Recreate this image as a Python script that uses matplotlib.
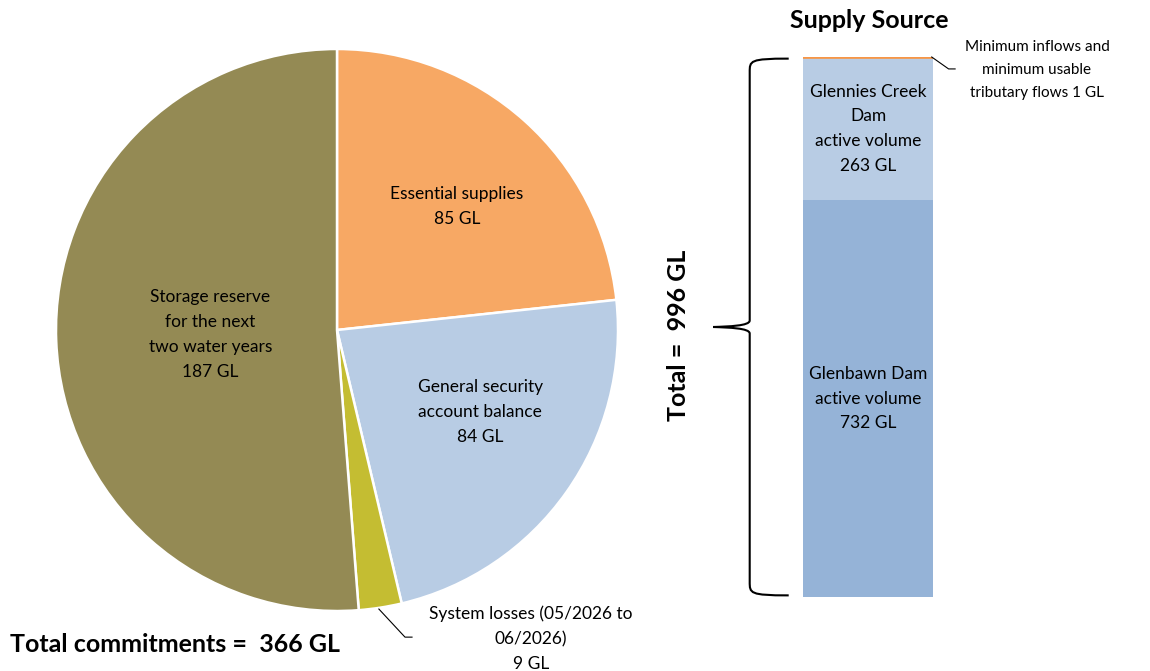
import matplotlib
matplotlib.use('Agg')
import matplotlib.pyplot as plt
from matplotlib.path import Path
from matplotlib.patches import PathPatch

plt.rcParams['font.family'] = ['Lato', 'DejaVu Sans']

# commitments (pie)
pie_labels = ['Essential supplies\n85 GL',
              'General security\naccount balance\n84 GL',
              'System losses (05/2026 to\n06/2026)\n9 GL',
              'Storage reserve\nfor the next\ntwo water years\n187 GL']
pie_values = [85, 84, 9, 187]
pie_colors = ['#F7A864', '#B8CCE4', '#C4BD32', '#948A54']
total_commit = 366

# supply source (stacked bar)
bar_labels = ['Glenbawn Dam\nactive volume\n732 GL',
              'Glennies Creek\nDam\nactive volume\n263 GL',
              'Minimum inflows and\nminimum usable\ntributary flows 1 GL']
bar_values = [732, 263, 1]
bar_colors = ['#95B3D7', '#B8CCE4', '#F79646']
total_supply = 996

W, H = 1150, 671
fig = plt.figure(figsize=(W / 100, H / 100), dpi=100)

# pie axes: centre (337, 330) px, radius 281 px
cx, cy, r = 337, 330, 281
ax = fig.add_axes([(cx - r) / W, (H - cy - r) / H, 2 * r / W, 2 * r / H])
wedges, _ = ax.pie(pie_values, colors=pie_colors, startangle=90, counterclock=False,
                   radius=1, wedgeprops=dict(edgecolor='white', linewidth=1.8))
ax.set_xlim(-1, 1)
ax.set_ylim(-1, 1)
ax.set_aspect('equal')
ax.axis('off')

fs = 12.5
ls = 1.68
ax.text(0.427, 0.44, pie_labels[0], ha='center', va='center', fontsize=fs, linespacing=ls)
ax.text(0.51, -0.292, pie_labels[1], ha='center', va='center', fontsize=fs, linespacing=ls)
ax.text(-0.45, -0.016, pie_labels[3], ha='center', va='center', fontsize=fs, linespacing=ls)
ax.text(0.69, -1.10, pie_labels[2], ha='center', va='center', fontsize=fs,
        linespacing=ls, clip_on=False)
ax.plot([0.149, 0.242, 0.267], [-0.993, -1.093, -1.093], color='black', lw=0.8,
        clip_on=False)

fig.text(10 / W, 1 - 645 / H, f'Total commitments =  {total_commit} GL', fontsize=18,
         fontweight='bold', ha='left', va='center')

# bar axes: x 803..933, y 57..597 px
bx0, bx1, by0, by1 = 803, 933, 57, 597
bx = fig.add_axes([bx0 / W, (H - by1) / H, (bx1 - bx0) / W, (by1 - by0) / H])
bottom = 0
for v, c in zip(bar_values, bar_colors):
    edge = c if v < 5 else 'none'
    bx.bar(0.5, v, width=1, bottom=bottom, color=c, edgecolor=edge, linewidth=1.2)
    bottom += v
bx.set_xlim(0, 1)
bx.set_ylim(0, total_supply)
bx.axis('off')

bx.text(0.5, bar_values[0] / 2, bar_labels[0], ha='center', va='center',
        fontsize=fs, linespacing=ls)
bx.text(0.5, bar_values[0] + bar_values[1] / 2, bar_labels[1], ha='center', va='center',
        fontsize=fs, linespacing=ls)
bx.text(1.80, total_supply - 24, bar_labels[2], ha='center', va='center',
        fontsize=11, linespacing=1.84, clip_on=False)
bx.plot([0.99, 1.12, 1.17], [total_supply, total_supply - 22, total_supply - 22],
        color='black', lw=0.8, clip_on=False)

fig.text(869 / W, 1 - 20 / H, 'Supply Source', fontsize=18, fontweight='bold',
         ha='center', va='center')

# curly brace to the left of the bar
xv, xt, xh = -0.41, -0.69, -0.11
top, bot = total_supply - 3, 3
mid = total_supply / 2
verts = [(xh, top), (xv, top), (xv, top - 4), (xv, top - 25),
         (xv, mid + 12),
         (xv, mid + 2), (xt + 0.12, mid + 1), (xt, mid),
         (xt + 0.12, mid - 1), (xv, mid - 2), (xv, mid - 12),
         (xv, bot + 25),
         (xv, bot + 4), (xv, bot), (xh, bot)]
codes = [Path.MOVETO, Path.CURVE4, Path.CURVE4, Path.CURVE4,
         Path.LINETO,
         Path.CURVE4, Path.CURVE4, Path.CURVE4,
         Path.CURVE4, Path.CURVE4, Path.CURVE4,
         Path.LINETO,
         Path.CURVE4, Path.CURVE4, Path.CURVE4]
bx.add_patch(PathPatch(Path(verts, codes), facecolor='none', edgecolor='black',
                       lw=1.5, clip_on=False))

fig.text(679 / W, 1 - 335 / H, f'Total =  {total_supply} GL', fontsize=18, fontweight='bold',
         rotation=90, ha='center', va='center')

fig.savefig('out.png', dpi=100)
